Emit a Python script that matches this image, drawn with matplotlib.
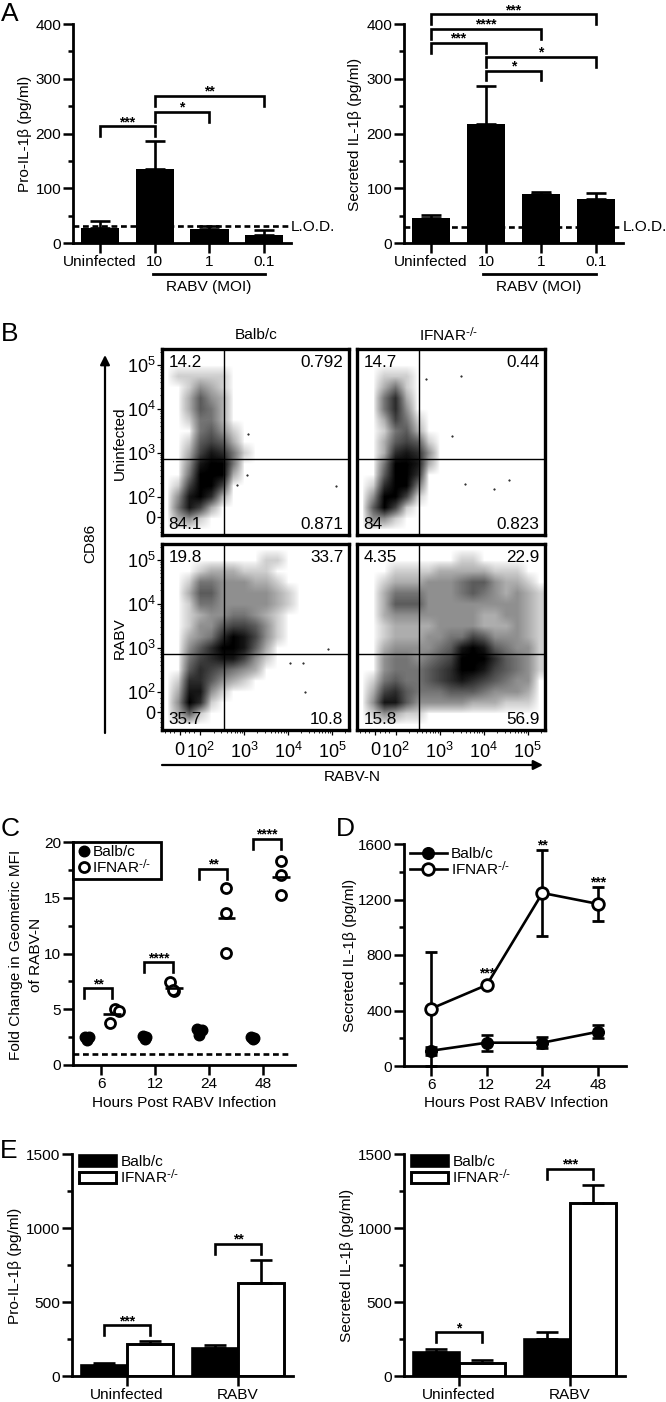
import matplotlib
matplotlib.use('Agg')
import matplotlib.pyplot as plt
import numpy as np
from matplotlib.colors import PowerNorm
from matplotlib.lines import Line2D
from matplotlib.ticker import MultipleLocator, FixedLocator

plt.rcParams['font.family'] = ['Liberation Sans', 'DejaVu Sans']
plt.rcParams['mathtext.default'] = 'regular'
plt.rcParams['font.size'] = 11.1
plt.rcParams['axes.linewidth'] = 2.0

ko_label = r'IFNAR$^{\text{-/-}}$'

# panel A
moi_labels = ['Uninfected', '10', '1', '0.1']
proil_vals = [27, 136, 25.5, 15]
proil_err = [14, 50, 5.5, 9]
secil_vals = [46, 218, 90, 81]
secil_err = [6, 69, 4, 11]
lod_level = [31.5, 30]
proil_brackets = [(0, 1, 214, '***'), (1, 2, 240, '*'), (1, 3, 269, '**')]
secil_brackets = [(0, 3, 418, '***'), (0, 2, 391.5, '****'), (0, 1, 366, '***'),
                  (1, 3, 340, '*'), (1, 2, 315, '*')]

# panel B, darkness 0-9, 0.25 decade cells, top row first
dens_balb_uninf = [
    '00000000000000000', '00000000000000000', '01111100000000000', '00132100000000000',
    '00253200000000000', '00254200000000000', '00144200000000000', '00045310000000000',
    '00156520000000000', '00268741000000000', '00389940000000000', '00499920000000000',
    '01699600000000000', '03897200000000000', '04862000000000000', '02310000000000000',
    '00000000000000000']
dens_ifnar_uninf = [
    '00000000000000000', '00000000000000000', '00111000000000000', '00241000000000000',
    '00472000000000000', '00473000000000000', '00264100000000000', '00145200000000000',
    '00256510000000000', '00278730000000000', '00499820000000000', '00599700000000000',
    '01799400000000000', '03996100000000000', '05961000000000000', '03310000000000000',
    '00000000000000000']
dens_balb_rabv = [
    '00000000000000000', '00000000011000000', '00012221110000000', '00144333221000000',
    '00255333332100000', '00144333332100000', '00123344321000000', '00133566531000000',
    '00234798631000000', '00357998520000000', '00467886310000000', '00576543200000000',
    '01775321000000000', '02883100000000000', '03971000000000000', '02510000000000000',
    '00000000000000000']
dens_ifnar_rabv = [
    '00000000000000000', '00000000011000000', '00011112222211100', '00122233345532210',
    '00244433345432321', '00255533333333321', '00233333333223321', '00122223333222321',
    '00122233446533321', '00233334589854331', '00344345699975431', '00344456799865431',
    '01454456787654330', '02675444555433320', '03885333332221110', '01321100000000000',
    '00000000000000000']
quad_labels = [['14.2', '0.792', '84.1', '0.871'], ['14.7', '0.44', '84', '0.823'],
               ['19.8', '33.7', '35.7', '10.8'], ['4.35', '22.9', '15.8', '56.9']]
stray_x = [[3.09, 3.07, 2.84, 5.09], [3.49, 2.69, 3.29, 4.57, 3.57, 4.24],
           [4.05, 4.33, 4.92, 4.39], []]
stray_y = [[3.43, 2.48, 2.27, 2.25], [4.75, 4.67, 3.38, 2.37, 2.29, 2.18],
           [2.66, 2.64, 2.97, 1.98], []]
gate_y = [2.86, 2.86, 2.85, 2.85]
gate_x = 2.53
flow_ticks = [1.53, 2, 3, 4, 5]
flow_ticklabels = ['0', r'$10^{2}$', r'$10^{3}$', r'$10^{4}$', r'$10^{5}$']

# panel C
hours = ['6', '12', '24', '48']
balb_c_x = [-0.29, -0.23, -0.26, 0.77, 0.83, 0.81, 1.78, 1.86, 1.81, 2.77, 2.84, 2.82]
balb_c_y = [2.55, 2.5, 2.2, 2.6, 2.5, 2.3, 3.25, 3.1, 2.7, 2.55, 2.45, 2.35]
ifnar_c_x = [0.16, 0.25, 0.34, 1.27, 1.35, 1.34, 2.32, 2.32, 2.32, 3.33, 3.33, 3.33]
ifnar_c_y = [3.8, 5.05, 4.85, 7.4, 6.6, 6.7, 15.85, 13.6, 10.05, 18.3, 17.0, 15.25]
ifnar_c_mean_x = [0.2, 1.35, 2.32, 3.33]
ifnar_c_mean = [4.6, 6.9, 13.2, 16.85]
c_brackets = [(-0.32, 0.21, 6.9, '**'), (0.79, 1.33, 9.2, '****'),
              (1.81, 2.33, 17.6, '**'), (2.81, 3.33, 20.3, '****')]

# panel D
balb_d = [110, 168, 168, 247]
balb_d_err = [30, 57, 40, 48]
ifnar_d = [413, 584, 1247, 1168]
ifnar_d_low = [413, 15, 307, 121]
ifnar_d_high = [411, 15, 312, 124]
d_stars = [(1, 640, '***'), (2, 1561, '**'), (3, 1295, '***')]

# panel E
groups = ['Uninfected', 'RABV']
balb_pro = [77, 192]
balb_pro_err = [13, 20]
ifnar_pro = [215, 626]
ifnar_pro_err = [22, 160]
balb_sec = [163, 253]
balb_sec_err = [20, 47]
ifnar_sec = [88, 1168]
ifnar_sec_err = [23, 122]
pro_brackets = [(-0.205, 0.205, 343, '***'), (0.795, 1.205, 894, '**')]
sec_brackets = [(-0.205, 0.205, 296, '*'), (0.795, 1.205, 1400, '***')]

W, H = 666, 1402
fig = plt.figure(figsize=(W / 100, H / 100), dpi=100)


def px_axes(x0, y0, x1, y1):
    return fig.add_axes([x0 / W, 1 - y1 / H, (x1 - x0) / W, (y1 - y0) / H])


def ftext(x, y, s, **kw):
    kw.setdefault('ha', 'center')
    kw.setdefault('va', 'center')
    fig.text(x / W, 1 - y / H, s, **kw)


def fline(x0, y0, x1, y1, lw=2.0):
    fig.add_artist(Line2D([x0 / W, x1 / W], [1 - y0 / H, 1 - y1 / H], color='k', lw=lw))


def style_axes(ax, major, minor, xpos, xlabels, xlim, ylim):
    ax.spines['top'].set_visible(False)
    ax.spines['right'].set_visible(False)
    ax.set_xlim(xlim)
    ax.set_ylim(ylim)
    ax.yaxis.set_major_locator(MultipleLocator(major))
    ax.yaxis.set_minor_locator(MultipleLocator(minor))
    ax.set_xticks(xpos)
    ax.set_xticklabels(xlabels)
    ax.tick_params(axis='both', which='major', length=7, width=1.8, pad=1.5)
    ax.tick_params(axis='y', which='minor', length=3.5, width=1.8)
    ax.patch.set_alpha(0)


def bracket(ax, x0, x1, y, drop, stars):
    ax.plot([x0, x0, x1, x1], [y - drop, y, y, y - drop], c='k', lw=1.9, clip_on=False,
            solid_joinstyle='miter')
    ax.text((x0 + x1) / 2, y, stars, ha='center', va='baseline', fontsize=10, weight='bold')


def star_bars(ax, vals, err):
    x = np.arange(len(vals))
    ax.bar(x, vals, width=0.7, color='k')
    ax.errorbar(x, vals, yerr=[np.zeros(len(vals)), err], fmt='none', ecolor='k',
                elinewidth=1.9, capsize=7, capthick=1.9)


# A
ax = px_axes(73, 24, 291, 243.3)
star_bars(ax, proil_vals, proil_err)
ax.axhline(lod_level[0], xmax=0.985, c='k', lw=1.9, ls=(0, (2.2, 1.4)))
style_axes(ax, 100, 50, range(4), moi_labels, (-0.494, 3.49), (0, 400))
for b in proil_brackets:
    bracket(ax, b[0], b[1], b[2], 18, b[3])
ax = px_axes(404, 24, 623, 243.3)
star_bars(ax, secil_vals, secil_err)
ax.axhline(lod_level[1], xmax=0.98, c='k', lw=1.9, ls=(0, (2.2, 1.4)))
style_axes(ax, 100, 50, range(4), moi_labels, (-0.49, 3.49), (0, 400))
for b in secil_brackets:
    bracket(ax, b[0], b[1], b[2], 18, b[3])
ftext(25, 134, 'Pro-IL-1β (pg/ml)', rotation=90)
ftext(355, 134, 'Secreted IL-1β (pg/ml)', rotation=90)
ftext(313, 227, 'L.O.D.')
ftext(645, 227, 'L.O.D.')
fline(153, 274, 265, 274)
fline(483, 274, 596, 274)
ftext(209, 287, 'RABV (MOI)')
ftext(539, 287, 'RABV (MOI)')

# B
flow_boxes = [(162, 349, 349, 535), (357, 349, 545, 535), (162, 544, 349, 730), (357, 544, 545, 730)]
flow_dens = [dens_balb_uninf, dens_ifnar_uninf, dens_balb_rabv, dens_ifnar_rabv]
minor_pos = [k + np.log10(m) for k in range(2, 6) for m in range(2, 10)]
minor_pos = [p for p in minor_pos if p < 5.36] + [1.2, 1.3, 1.4, 1.53, 1.65, 1.75, 1.85]
for i in range(4):
    x0, y0, x1, y1 = flow_boxes[i]
    ax = px_axes(x0, y0, x1, y1)
    grid = np.array([[int(c) for c in row] for row in flow_dens[i]])
    ax.imshow(grid, cmap='gray_r', norm=PowerNorm(gamma=0.75, vmin=0, vmax=9), aspect='auto',
              interpolation='bilinear', extent=(1.124, 5.39, 1.124, 5.36), origin='upper')
    ax.plot(stray_x[i], stray_y[i], 'k.', ms=1.0)
    ax.axvline(gate_x, c='k', lw=1.0)
    ax.axhline(gate_y[i], c='k', lw=1.0)
    ax.set_xlim(1.124, 5.39)
    ax.set_ylim(1.124, 5.36)
    for s in ax.spines.values():
        s.set_linewidth(2.4)
    ax.set_xticks(flow_ticks)
    ax.set_yticks(flow_ticks)
    ax.xaxis.set_minor_locator(FixedLocator(minor_pos))
    ax.yaxis.set_minor_locator(FixedLocator(minor_pos))
    ax.tick_params(which='major', length=3.5, width=0.9, pad=1, labelsize=13)
    ax.tick_params(which='minor', length=1.8, width=0.6)
    if i >= 2:
        ax.set_xticklabels(flow_ticklabels)
        ax.tick_params(axis='x', which='major', pad=5)
    else:
        ax.tick_params(axis='x', which='both', length=0, labelbottom=False)
    if i % 2 == 0:
        ax.set_yticklabels(flow_ticklabels)
    else:
        ax.tick_params(axis='y', which='both', length=0, labelleft=False)
    q = quad_labels[i]
    ax.text(0.035, 0.925, q[0], transform=ax.transAxes, fontsize=12.3, va='center')
    ax.text(0.97, 0.925, q[1], transform=ax.transAxes, fontsize=12.3, va='center', ha='right')
    ax.text(0.035, 0.055, q[2], transform=ax.transAxes, fontsize=12.3, va='center')
    ax.text(0.97, 0.055, q[3], transform=ax.transAxes, fontsize=12.3, va='center', ha='right')
ftext(256, 335, 'Balb/c')
ftext(449, 335, ko_label)
ftext(120, 443, 'Uninfected', rotation=90)
ftext(120, 638, 'RABV', rotation=90)
ftext(90, 543, 'CD86', rotation=90)
ftext(352, 777, 'RABV-N')
arrow_ax = fig.add_axes([0, 0, 1, 1])
arrow_ax.set_xlim(0, W)
arrow_ax.set_ylim(H, 0)
arrow_ax.axis('off')
arrow_ax.annotate('', xy=(105, 355), xytext=(105, 733),
                  arrowprops=dict(arrowstyle='-|>', color='k', lw=1.6, mutation_scale=14, shrinkA=0, shrinkB=0))
arrow_ax.annotate('', xy=(543, 765), xytext=(162, 765),
                  arrowprops=dict(arrowstyle='-|>', color='k', lw=1.6, mutation_scale=14, shrinkA=0, shrinkB=0))

# C
ax = px_axes(73, 842, 295, 1065)
ax.plot(balb_c_x, balb_c_y, 'o', c='k', ms=7.6, label='Balb/c', clip_on=False)
ax.plot(ifnar_c_x, ifnar_c_y, 'o', mfc='w', mec='k', mew=2.0, ms=7.2, label=ko_label, clip_on=False)
ax.hlines(ifnar_c_mean, np.array(ifnar_c_mean_x) - 0.16, np.array(ifnar_c_mean_x) + 0.16, colors='k', lw=1.9)
ax.axhline(1, c='k', lw=1.9, ls=(0, (2.2, 1.4)), xmax=0.98)
style_axes(ax, 5, 2.5, range(4), hours, (-0.52, 3.59), (0, 20))
for b in c_brackets:
    bracket(ax, b[0], b[1], b[2], 0.9, b[3])
leg = ax.legend(loc='upper left', bbox_to_anchor=(0, 1, 0.397, 0), mode='expand', borderaxespad=0, fancybox=False,
                framealpha=1, edgecolor='k', borderpad=0.2, handletextpad=0.05, handlelength=1.0, labelspacing=-0.1)
leg.get_frame().set_linewidth(2.0)
ftext(16, 955, 'Fold Change in Geometric MFI', rotation=90)
ftext(36, 955, 'of RABV-N', rotation=90)
ftext(184, 1103, 'Hours Post RABV Infection')

# D
ax = px_axes(404, 844, 626, 1066)
xd = np.arange(4)
ax.errorbar(xd, balb_d, yerr=balb_d_err, c='k', lw=1.9, marker='o', ms=8.4, elinewidth=1.9, capsize=4.3,
            capthick=1.9, clip_on=False)
ax.errorbar(xd, ifnar_d, yerr=[ifnar_d_low, ifnar_d_high], c='k', lw=1.9, marker='o', mfc='w', mec='k',
            mew=2.0, ms=8.4, elinewidth=1.9, capsize=4.3, capthick=1.9, clip_on=False)
style_axes(ax, 400, 200, range(4), hours, (-0.485, 3.5), (0, 1600))
for s in d_stars:
    ax.text(s[0], s[1], s[2], ha='center', va='baseline', fontsize=10, weight='bold', clip_on=False)
handles = [Line2D([], [], c='k', lw=1.9, marker='o', ms=8.4),
           Line2D([], [], c='k', lw=1.9, marker='o', mfc='w', mew=2.0, ms=8.4)]
ax.legend(handles, ['Balb/c', ko_label], loc='upper left', bbox_to_anchor=(0.025, 0.985), borderaxespad=0,
          frameon=False, borderpad=0, handlelength=2.4, handletextpad=0.3, labelspacing=-0.1)
ftext(350, 955, 'Secreted IL-1β (pg/ml)', rotation=90)
ftext(516, 1103, 'Hours Post RABV Infection')

# E
e_boxes = [(72, 293), (404, 625)]
e_sets = [(balb_pro, balb_pro_err, ifnar_pro, ifnar_pro_err, pro_brackets),
          (balb_sec, balb_sec_err, ifnar_sec, ifnar_sec_err, sec_brackets)]
for i in range(2):
    ax = px_axes(e_boxes[i][0], 1154, e_boxes[i][1], 1376)
    bv, be, iv, ie, br = e_sets[i]
    xg = np.arange(2)
    ax.bar(xg - 0.205, bv, width=0.41, color='k', edgecolor='k', lw=1.9, label='Balb/c')
    ax.bar(xg + 0.205, iv, width=0.41, color='w', edgecolor='k', lw=2.1, label=ko_label)
    ax.errorbar(xg - 0.205, bv, yerr=[np.zeros(2), be], fmt='none', ecolor='k', elinewidth=1.9, capsize=8, capthick=1.9)
    ax.errorbar(xg + 0.205, iv, yerr=[np.zeros(2), ie], fmt='none', ecolor='k', elinewidth=1.9, capsize=8, capthick=1.9)
    style_axes(ax, 500, 250, range(2), groups, (-0.495, 1.495), (0, 1500))
    for b in br:
        bracket(ax, b[0], b[1], b[2], 68, b[3])
    ax.legend(loc='upper left', bbox_to_anchor=(0.03, 0.995), borderaxespad=0, frameon=False, borderpad=0,
              handlelength=2.4, handleheight=0.75, handletextpad=0.3, labelspacing=-0.1)
ftext(15, 1266, 'Pro-IL-1β (pg/ml)', rotation=90)
ftext(347, 1265, 'Secreted IL-1β (pg/ml)', rotation=90)

# panel letters
ftext(1, 14, 'A', fontsize=19, ha='left')
ftext(1, 334, 'B', fontsize=19, ha='left')
ftext(1, 829, 'C', fontsize=19, ha='left')
ftext(336, 829, 'D', fontsize=19, ha='left')
ftext(0, 1151, 'E', fontsize=19, ha='left')

fig.savefig('out.png', dpi=100)
